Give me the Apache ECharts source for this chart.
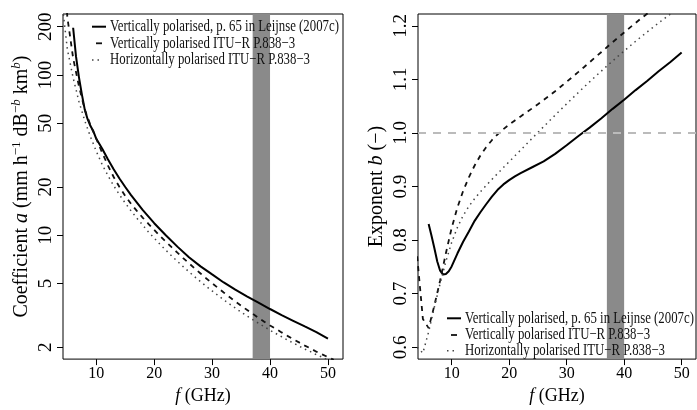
<!DOCTYPE html>
<html><head><meta charset="utf-8">
<script src="https://cdn.jsdelivr.net/npm/echarts@6/dist/echarts.min.js"></script>
<style>html,body{margin:0;padding:0;background:#fff}#c{width:697px;height:410px}</style>
</head><body><div id="c"></div>
<script>
// ---- data ----
const fItu = [4,5,6,7,8,9,10,11,12,13,14,15,16,17,18,19,20,21,22,23,24,25,26,27,28,29,30,31,32,33,34,35,36,37,38,39,40,41,42,43,44,45,46,47,48,49,50,51];
const aItuV = [781,229,127.5,85.2,60.9,48.6,40.0,32.8,27.3,23.1,20.0,17.6,15.7,14.2,12.9,11.8,10.8,9.91,9.13,8.43,7.79,7.21,6.69,6.21,5.78,5.38,5.02,4.70,4.40,4.12,3.87,3.64,3.43,3.24,3.06,2.89,2.74,2.61,2.48,2.36,2.25,2.15,2.05,1.97,1.88,1.81,1.74,1.67];
const aItuH = [302,144.5,96.0,68.4,51.9,41.1,33.4,27.7,23.6,20.4,17.9,15.9,14.2,12.8,11.6,10.5,9.60,8.79,8.08,7.45,6.88,6.38,5.92,5.51,5.14,4.80,4.50,4.22,3.96,3.73,3.52,3.32,3.14,2.98,2.83,2.69,2.56,2.44,2.33,2.22,2.13,2.04,1.95,1.88,1.80,1.74,1.67,1.61];
const bItuV = [0.7700,0.6529,0.6358,0.6782,0.7248,0.7755,0.8226,0.8608,0.8916,0.9173,0.9393,0.9579,0.9734,0.9865,0.9975,1.0070,1.0155,1.0234,1.0309,1.0384,1.0459,1.0536,1.0615,1.0696,1.0779,1.0866,1.0954,1.1044,1.1135,1.1227,1.1320,1.1414,1.1507,1.1600,1.1693,1.1784,1.1875,1.1966,1.2054,1.2142,1.2226,1.2311,1.2393,1.2473,1.2552,1.2629,1.2705,1.2780];
const bItuH = [0.6000,0.5893,0.6289,0.6752,0.7192,0.7602,0.7955,0.8237,0.8457,0.8631,0.8775,0.8902,0.9020,0.9133,0.9244,0.9354,0.9463,0.9572,0.9681,0.9790,0.9900,1.0009,1.0117,1.0225,1.0332,1.0438,1.0543,1.0647,1.0750,1.0853,1.0954,1.1053,1.1152,1.1249,1.1343,1.1438,1.1530,1.1621,1.1711,1.1798,1.1885,1.1969,1.2053,1.2135,1.2215,1.2294,1.2370,1.2450];
const fLeijA = [6,6.5,7,7.5,8,8.5,9,9.5,10,11,12,13,14,15,16,18,20,22,24,26,28,30,32,34,36,38,40,42,44,46,48,50];
const aLeij  = [197,130,97,76,61,53,48,44.5,40,34.8,29.8,25.8,22.6,20.0,17.8,14.4,11.9,10.0,8.5,7.3,6.4,5.7,5.08,4.58,4.16,3.8,3.47,3.18,2.93,2.7,2.49,2.27];
const fLeijB = [6,6.5,7,7.5,8,8.5,9,9.5,10,11,12,13,14,15,16,17,18,19,20,21,22,24,26,28,30,32,34,36,38,40,42,44,46,48,50];
const bLeij  = [0.830,0.808,0.785,0.760,0.743,0.736,0.737,0.742,0.751,0.775,0.797,0.816,0.836,0.852,0.867,0.881,0.894,0.904,0.912,0.919,0.925,0.936,0.947,0.961,0.977,0.994,1.010,1.027,1.045,1.062,1.080,1.097,1.115,1.132,1.150];
const bandGHz = [37, 40];
const bRef = 1.0;
const xTicks = [10,20,30,40,50];
const aTicks = [2,5,10,20,50,100,200];
const bTicks = [0.6,0.7,0.8,0.9,1.0,1.1,1.2];
const legendLabels = ['Vertically polarised, p. 65 in Leijnse (2007c)','Vertically polarised ITU\u2212R P.838\u22123','Horizontally polarised ITU\u2212R P.838\u22123'];

// ---- chart ----
const FF = '"Liberation Serif","Times New Roman",serif';
const zip = (xs, ys) => xs.map((x, i) => [x, ys[i]]);
const solid = {color:'#000', width:2, type:'solid'};
const dashed = {color:'#111', width:1.8, type:[5,5]};
const dotted = {color:'#444', width:1.5, type:[1.5,4]};

function xAxisCfg(gi, min, max) {
  return {
    type:'value', gridIndex:gi, min:min, max:max,
    axisLine:{show:false}, splitLine:{show:false},
    axisTick:{show:true, inside:false, length:6, customValues:xTicks, lineStyle:{color:'#000', width:1}},
    axisLabel:{customValues:xTicks, fontFamily:FF, fontSize:16, lineHeight:16, color:'#000', margin:7},
    name:'{i|f} (GHz)', nameLocation:'middle', nameGap:26,
    nameTextStyle:{fontFamily:FF, fontSize:18, lineHeight:18, color:'#000', rich:{i:{fontFamily:FF, fontSize:18, fontStyle:'italic', color:'#000'}}}
  };
}

const supStyle = {fontFamily:FF, fontSize:13, color:'#000', padding:[0,0,11,0]};
const option = {
  animation:false,
  backgroundColor:'#fff',
  grid:[
    {left:63, right:354, top:14, bottom:47, show:true, borderColor:'#000', borderWidth:1, backgroundColor:'transparent'},
    {left:418, right:1, top:14, bottom:47, show:true, borderColor:'#000', borderWidth:1, backgroundColor:'transparent'}
  ],
  xAxis:[ xAxisCfg(0, 4.25, 52.6), xAxisCfg(1, 4.15, 52.5) ],
  yAxis:[
    {type:'log', logBase:10, gridIndex:0, min:1.69, max:240,
     axisLine:{show:false}, splitLine:{show:false}, minorTick:{show:false},
     axisTick:{show:true, length:6, customValues:aTicks, lineStyle:{color:'#000'}},
     axisLabel:{customValues:aTicks, rotate:90, fontFamily:FF, fontSize:19, lineHeight:19, color:'#000', margin:7},
     name:'{n|Coefficient }{i|a}{n| (mm h}{s|\u22121}{n| dB}{s|\u2212}{si|b}{n| km}{si|b}{n|)}',
     nameLocation:'middle', nameRotate:90, nameGap:29,
     nameTextStyle:{fontFamily:FF, fontSize:20, color:'#000', rich:{
       n:{fontFamily:FF, fontSize:20, color:'#000'},
       i:{fontFamily:FF, fontSize:20, fontStyle:'italic', color:'#000'},
       s:supStyle,
       si:Object.assign({}, supStyle, {fontStyle:'italic'})
     }}
    },
    {type:'value', gridIndex:1, min:0.578, max:1.222,
     axisLine:{show:false}, splitLine:{show:false},
     axisTick:{show:true, length:6, customValues:bTicks, lineStyle:{color:'#000'}},
     axisLabel:{customValues:bTicks, rotate:90, fontFamily:FF, fontSize:19, lineHeight:19, color:'#000', margin:7,
                formatter:v => Number(v).toFixed(1)},
     name:'{n|Exponent }{i|b}{n| (\u2212)}',
     nameLocation:'middle', nameRotate:90, nameGap:31,
     nameTextStyle:{fontFamily:FF, fontSize:20, color:'#000', rich:{
       n:{fontFamily:FF, fontSize:20, color:'#000'},
       i:{fontFamily:FF, fontSize:20, fontStyle:'italic', color:'#000'}
     }}
    }
  ],
  series:[
    {type:'line', xAxisIndex:0, yAxisIndex:0, data:[], z:1, silent:true,
     markArea:{silent:true, itemStyle:{color:'#8a8a8a', opacity:1}, data:[[{xAxis:bandGHz[0]},{xAxis:bandGHz[1]}]]}},
    {type:'line', xAxisIndex:1, yAxisIndex:1, data:[], z:1, silent:true,
     markArea:{silent:true, itemStyle:{color:'#8a8a8a', opacity:1}, data:[[{xAxis:bandGHz[0]},{xAxis:bandGHz[1]}]]}},
    {name:'L-leij', type:'line', xAxisIndex:0, yAxisIndex:0, data:zip(fLeijA, aLeij), showSymbol:false, symbol:'none', lineStyle:solid, z:3},
    {name:'L-v', type:'line', xAxisIndex:0, yAxisIndex:0, data:zip(fItu, aItuV), showSymbol:false, symbol:'none', lineStyle:dashed, z:3},
    {name:'L-h', type:'line', xAxisIndex:0, yAxisIndex:0, data:zip(fItu, aItuH), showSymbol:false, symbol:'none', lineStyle:dotted, z:3},
    {name:'R-leij', type:'line', xAxisIndex:1, yAxisIndex:1, data:zip(fLeijB, bLeij), showSymbol:false, symbol:'none', lineStyle:solid, z:3},
    {name:'R-v', type:'line', xAxisIndex:1, yAxisIndex:1, data:zip(fItu, bItuV), showSymbol:false, symbol:'none', lineStyle:dashed, z:3},
    {name:'R-h', type:'line', xAxisIndex:1, yAxisIndex:1, data:zip(fItu, bItuH), showSymbol:false, symbol:'none', lineStyle:dotted, z:3},
    {type:'line', xAxisIndex:1, yAxisIndex:1, data:[], z:4, silent:true,
     markLine:{silent:true, symbol:['none','none'], label:{show:false},
       lineStyle:{color:'#bbbbbb', width:2, type:[8,7]}, data:[{yAxis:bRef}]}}
  ],
  graphic:[]
};

function legend(x0, ys, sx) {
  const els = [];
  els.push({type:'line', z:100, shape:{x1:x0, y1:ys[0], x2:x0+14, y2:ys[0]}, style:{stroke:'#000', lineWidth:2}});
  els.push({type:'line', z:100, shape:{x1:x0+4, y1:ys[1], x2:x0+10, y2:ys[1]}, style:{stroke:'#111', lineWidth:1.8}});
  els.push({type:'line', z:100, shape:{x1:x0, y1:ys[2], x2:x0+10, y2:ys[2]}, style:{stroke:'#444', lineWidth:1.5, lineDash:[1.5,4]}});
  legendLabels.forEach((t, i) => {
    els.push({type:'text', z:100, x:x0+18, y:ys[i], scaleX:sx, style:{text:t, font:'16px ' + FF, fill:'#111', align:'left', verticalAlign:'middle'}});
  });
  return els;
}
option.graphic = {elements: legend(92, [26.7, 43.3, 60], 0.8).concat(legend(447, [318.3, 335, 350.7], 0.8))};

const chart = echarts.init(document.getElementById('c'), null, {renderer:'canvas'});
chart.setOption(option);
</script>
</body></html>
